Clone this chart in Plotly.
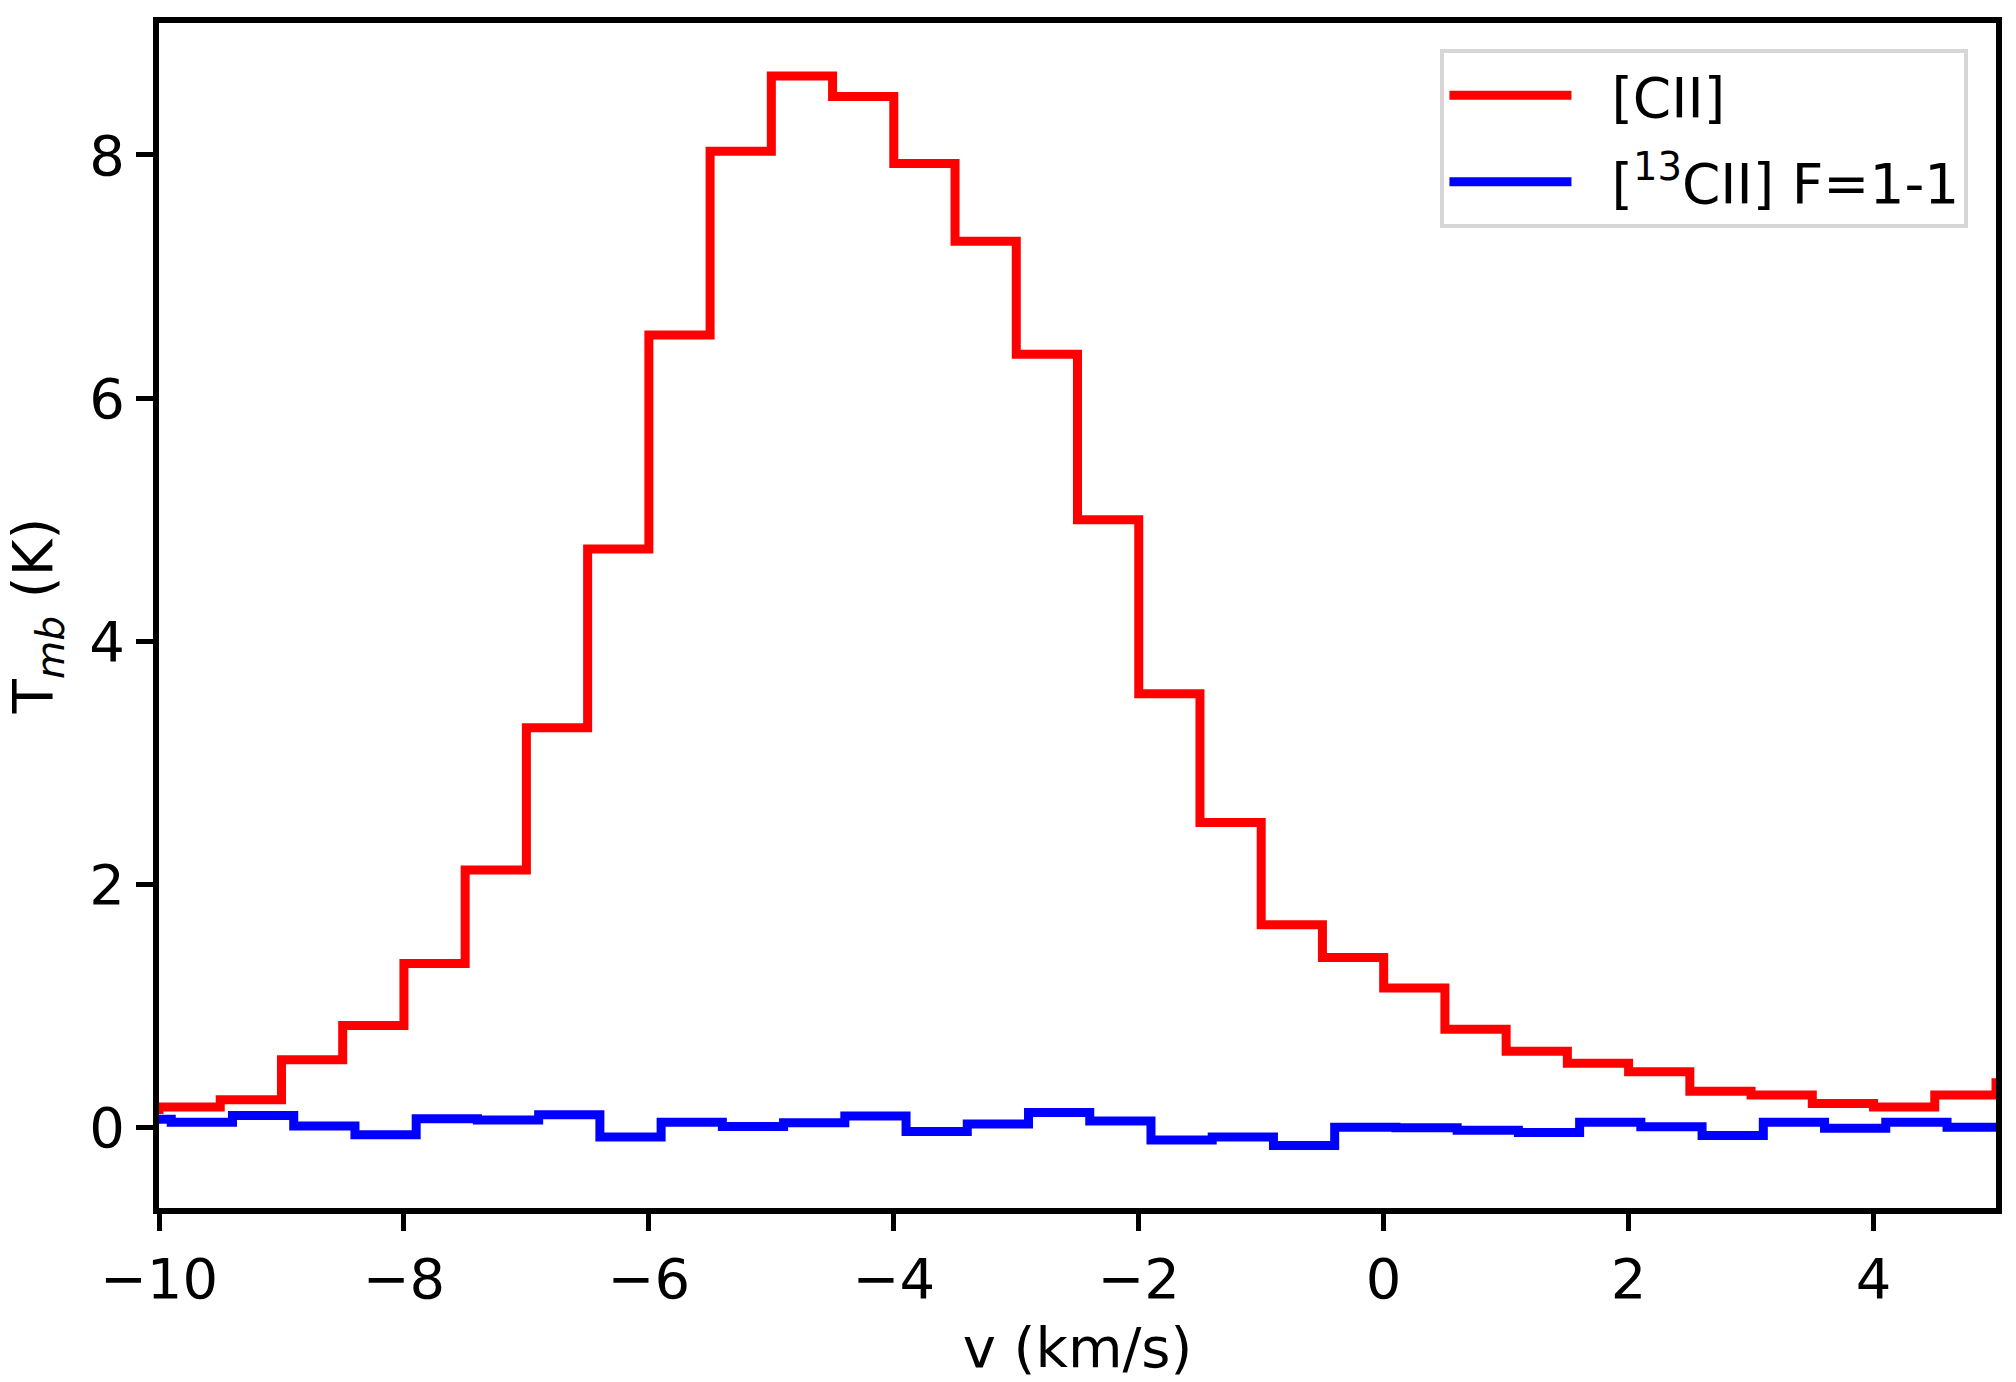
import plotly.graph_objects as go

# channel centres (km/s) and main-beam temperatures (K)
v_cii = [-10.25, -9.75, -9.25, -8.75, -8.25, -7.75, -7.25, -6.75, -6.25, -5.75,
         -5.25, -4.75, -4.25, -3.75, -3.25, -2.75, -2.25, -1.75, -1.25, -0.75,
         -0.25, 0.25, 0.75, 1.25, 1.75, 2.25, 2.75, 3.25, 3.75, 4.25, 4.75, 5.25]
t_cii = [0.15, 0.17, 0.23, 0.56, 0.84, 1.35, 2.12, 3.29, 4.76, 6.52,
         8.03, 8.65, 8.48, 7.93, 7.29, 6.36, 5.00, 3.57, 2.51, 1.67,
         1.40, 1.15, 0.81, 0.63, 0.53, 0.46, 0.30, 0.27, 0.20, 0.17, 0.27, 0.37]

v_13cii = [-10.15, -9.65, -9.15, -8.65, -8.15, -7.65, -7.15, -6.65, -6.15, -5.65,
           -5.15, -4.65, -4.15, -3.65, -3.15, -2.65, -2.15, -1.65, -1.15, -0.65,
           -0.15, 0.35, 0.85, 1.35, 1.85, 2.35, 2.85, 3.35, 3.85, 4.35, 4.85, 5.35]
t_13cii = [0.07, 0.046, 0.10, 0.014, -0.057, 0.074, 0.063, 0.107, -0.077, 0.046,
           0.011, 0.041, 0.096, -0.03, 0.03, 0.125, 0.055, -0.10, -0.077, -0.145,
           0.005, 0.0, -0.02, -0.04, 0.046, 0.008, -0.063, 0.046, -0.005, 0.046, 0.005, 0.01]

x_ticks = [-10, -8, -6, -4, -2, 0, 2, 4]
y_ticks = [0, 2, 4, 6, 8]

font = "DejaVu Sans"
pad = "\u00a0\u00a0"  # gap between legend line and label

fig = go.Figure()
fig.add_trace(go.Scatter(x=v_cii, y=t_cii, mode="lines", line_shape="hvh",
                         line=dict(color="#ff0000", width=9),
                         name=pad + "[CII]", legendgroup="a"))
fig.add_trace(go.Scatter(x=v_13cii, y=t_13cii, mode="lines", line_shape="hvh",
                         line=dict(color="#0000ff", width=9),
                         name=pad + "[<sup>13</sup>CII] F=1-1", legendgroup="b"))

axis_common = dict(
    showgrid=False, zeroline=False,
    showline=True, linecolor="black", linewidth=6, mirror=True,
    ticks="outside", ticklen=17, tickwidth=5, tickcolor="black",
    tickfont=dict(family=font, size=56, color="black"),
)

fig.update_xaxes(
    range=[-10, 5], tickvals=x_ticks,
    title=dict(text="v (km/s)", font=dict(family=font, size=56, color="black"), standoff=20),
    **axis_common,
)
fig.update_yaxes(
    range=[-0.66, 9.085], tickvals=y_ticks,
    title=dict(text="T<sub><i>mb</i></sub> (K)", font=dict(family=font, size=56, color="black"), standoff=24),
    **axis_common,
)

fig.update_layout(
    width=2016, height=1382,
    margin=dict(l=159, r=20, t=23, b=169),
    plot_bgcolor="white", paper_bgcolor="white",
    legend=dict(
        x=0.985, y=0.978, xanchor="right", yanchor="top",
        bgcolor="rgba(255,255,255,0.8)", bordercolor="#d6d6d6", borderwidth=4,
        font=dict(family=font, size=55, color="black"),
        itemwidth=122, tracegroupgap=12,
    ),
)

fig.write_html("out.html", config={"displayModeBar": False},
               post_script="document.body.style.margin='0px';")
